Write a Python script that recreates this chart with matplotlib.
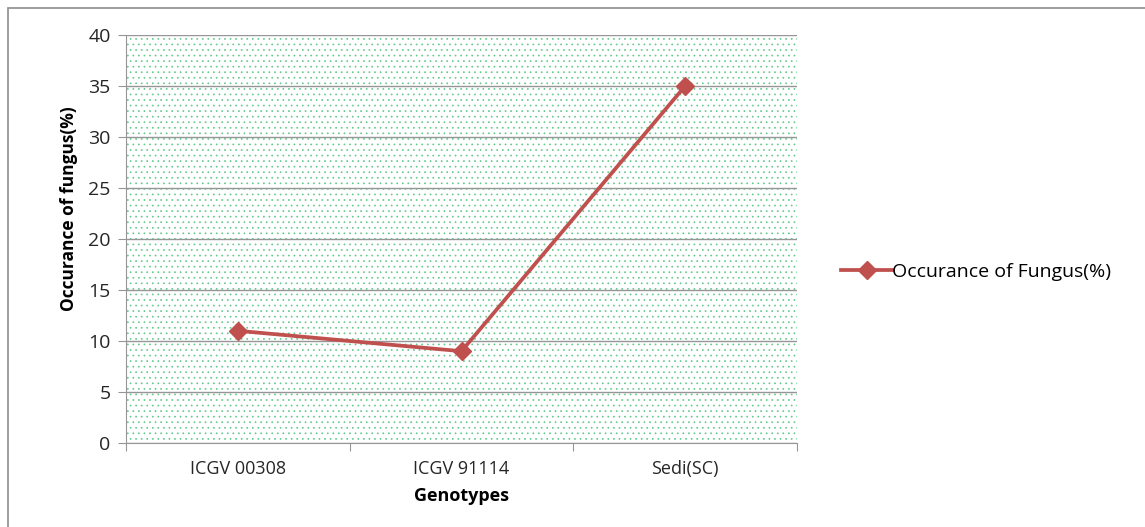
import matplotlib.pyplot as plt
from matplotlib.patches import Rectangle

genotypes = ['ICGV 00308', 'ICGV 91114', 'Sedi(SC)']
occurance = [11, 9, 35]
yticks = [0, 5, 10, 15, 20, 25, 30, 35, 40]

RED = '#C0504D'
GRID = '#969696'
plt.rcParams['font.family'] = ['Open Sans', 'DejaVu Sans']
plt.rcParams['hatch.color'] = '#62C98C'
plt.rcParams['hatch.linewidth'] = 0.5

fig = plt.figure(figsize=(11.45, 5.27), dpi=100)
fig.patches.append(Rectangle((8 / 1145, -0.01), 1.0, 1 - 8 / 527 + 0.01,
                             transform=fig.transFigure, fill=False,
                             edgecolor='#8C8C8C', linewidth=1.2))
ax = fig.add_axes([126 / 1145, 1 - 443 / 527, (797 - 126) / 1145, (443 - 35) / 527])

ax.patch.set_facecolor('white')
ax.patch.set_hatch('...')
ax.patch.set_edgecolor('#62C98C')
ax.patch.set_linewidth(0)

x = list(range(len(genotypes)))
ax.plot(x, occurance, color=RED, linewidth=2.7, marker='D', markersize=9.5,
        label='Occurance of Fungus(%)', zorder=3)

ax.set_xlim(-0.5, len(genotypes) - 0.5)
ax.set_ylim(0, 40)
ax.set_yticks(yticks)
ax.yaxis.grid(True, color=GRID, linewidth=1)
ax.set_axisbelow(True)

ax.set_xticks([i - 0.5 for i in range(len(genotypes) + 1)])
ax.set_xticklabels([])
ax.set_xticks(x, minor=True)
ax.set_xticklabels(genotypes, minor=True, fontsize=13, color='#262626')
ax.tick_params(axis='x', which='minor', length=0, pad=12)
ax.tick_params(axis='x', which='major', length=6, color=GRID)
ax.tick_params(axis='y', length=6, color=GRID, labelsize=14, labelcolor='#262626', pad=5)

for s in ['top', 'right']:
    ax.spines[s].set_visible(False)
for s in ['left', 'bottom']:
    ax.spines[s].set_color(GRID)

ax.set_xlabel('Genotypes', fontsize=13, fontweight='bold', labelpad=7)
ax.set_ylabel('Occurance of fungus(%)', fontsize=12.5, fontweight='bold', labelpad=7,
              y=0.575, family=['Liberation Sans Narrow', 'Open Sans', 'DejaVu Sans'])

ax.legend(loc='center left', bbox_to_anchor=(1.04, 0.42), frameon=False,
          fontsize=14, handlelength=2.6, handletextpad=0.0)

fig.savefig('out.png', dpi=100)
